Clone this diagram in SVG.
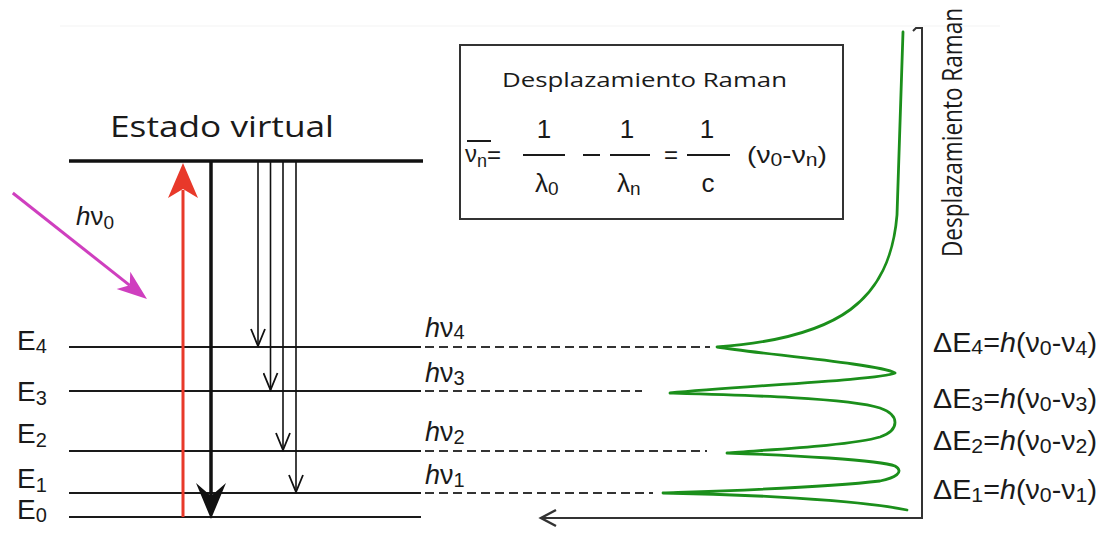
<svg xmlns="http://www.w3.org/2000/svg" width="1112" height="533" viewBox="0 0 1112 533">
<style>
.lvl{stroke:#1a1a1a;stroke-width:2;fill:none}
.dash{stroke:#333;stroke-width:2;stroke-dasharray:9 5;fill:none}
.thin{stroke:#111;stroke-width:1.6;fill:none}
.m{font-family:"Liberation Sans",Arial,sans-serif;fill:#1a1a1a}
.s{font-family:"Open Sans","Liberation Sans",sans-serif;fill:#1a1a1a}
.bar{stroke:#1a1a1a;stroke-width:2}
</style>
<defs>
<marker id="chev" viewBox="0 0 20 16" refX="18" refY="8" markerWidth="20" markerHeight="16" markerUnits="userSpaceOnUse" orient="auto">
<path d="M1,1 L18,8 L1,15" fill="none" stroke="#111" stroke-width="1.8"/>
</marker>
</defs>
<rect width="1112" height="533" fill="#fff"/>
<line x1="60" y1="26" x2="1000" y2="26" stroke="#f3f3f3" stroke-width="1"/>

<g id="virtual-state">
<line x1="69" y1="161" x2="423" y2="161" stroke="#111" stroke-width="3.5"/>
<text class="s" x="110" y="137" font-size="30" textLength="224" lengthAdjust="spacingAndGlyphs">Estado virtual</text>
</g>

<g id="levels">
<line class="lvl" x1="69" y1="347" x2="421" y2="347"/>
<line class="lvl" x1="69" y1="391" x2="421" y2="391"/>
<line class="lvl" x1="69" y1="451" x2="421" y2="451"/>
<line class="lvl" x1="69" y1="493" x2="421" y2="493"/>
<line class="lvl" x1="69" y1="517" x2="421" y2="517"/>
<text class="m" x="17" y="350" font-size="28">E<tspan font-size="20" dy="3">4</tspan></text>
<text class="m" x="17" y="401" font-size="28">E<tspan font-size="20" dy="4">3</tspan></text>
<text class="m" x="17" y="443" font-size="28">E<tspan font-size="20" dy="4">2</tspan></text>
<text class="m" x="17" y="488" font-size="28">E<tspan font-size="20" dy="4">1</tspan></text>
<text class="m" x="17" y="519" font-size="28">E<tspan font-size="20" dy="3">0</tspan></text>
</g>

<g id="connectors">
<line class="dash" x1="425" y1="347" x2="710" y2="347"/>
<line class="dash" x1="425" y1="391" x2="642" y2="391"/>
<line class="dash" x1="425" y1="451" x2="707" y2="451"/>
<line class="dash" x1="425" y1="493" x2="653" y2="493"/>
<line class="thin" x1="258" y1="162" x2="258" y2="346" marker-end="url(#chev)"/>
<line class="thin" x1="270.5" y1="162" x2="270.5" y2="390" marker-end="url(#chev)"/>
<line class="thin" x1="283" y1="162" x2="283" y2="450" marker-end="url(#chev)"/>
<line class="thin" x1="296" y1="162" x2="296" y2="492" marker-end="url(#chev)"/>
<line x1="183" y1="517" x2="183" y2="190" stroke="#e8392a" stroke-width="3"/>
<path d="M183,163 L198,198 L183,189 L168,198 Z" fill="#e8392a"/>
<line x1="211" y1="161" x2="211" y2="498" stroke="#111" stroke-width="3.5"/>
<path d="M211,519 L196,483 L211,496 L226,483 Z" fill="#111"/>
<g transform="translate(147,299) rotate(38.3)">
<line x1="-171" y1="0" x2="-22" y2="0" stroke="#cf3fbf" stroke-width="3"/>
<path d="M0,0 L-30,-11 L-22,0 L-30,11 Z" fill="#cf3fbf"/>
</g>
<path d="M913,31 L916,28 L922,28 L922,518 L541,518" fill="none" stroke="#333" stroke-width="2"/>
<path d="M556,510 L541,518 L556,526" fill="none" stroke="#333" stroke-width="2.5"/>
</g>

<g id="photon-label">
<text class="m" x="76" y="225" font-size="26"><tspan font-style="italic">h</tspan>ν<tspan font-size="19" dy="4">0</tspan></text>
</g>

<g id="transition-labels">
<text class="m" x="425" y="337" font-size="27"><tspan font-style="italic">h</tspan>ν<tspan font-size="20" dy="2">4</tspan></text>
<text class="m" x="425" y="382" font-size="27"><tspan font-style="italic">h</tspan>ν<tspan font-size="20" dy="3">3</tspan></text>
<text class="m" x="425" y="441" font-size="27"><tspan font-style="italic">h</tspan>ν<tspan font-size="20" dy="3">2</tspan></text>
<text class="m" x="425" y="484" font-size="27"><tspan font-style="italic">h</tspan>ν<tspan font-size="20" dy="3">1</tspan></text>
</g>

<g id="formula-box">
<rect x="460" y="45" width="383" height="174" fill="none" stroke="#333" stroke-width="2"/>
<text class="s" x="502" y="87" font-size="20" textLength="285" lengthAdjust="spacingAndGlyphs">Desplazamiento Raman</text>
<line class="bar" x1="467" y1="141" x2="491" y2="141"/>
<text class="m" x="465" y="162" font-size="24">ν<tspan font-size="18" dy="5">n</tspan><tspan dy="-4">=</tspan></text>
<line class="bar" x1="523" y1="155" x2="565" y2="155"/>
<text class="m" x="544" y="138" font-size="26" text-anchor="middle">1</text>
<text class="m" x="535" y="192" font-size="26">λ<tspan font-size="19" dy="3">0</tspan></text>
<line class="bar" x1="583" y1="155" x2="600" y2="155"/>
<line class="bar" x1="610" y1="155" x2="650" y2="155"/>
<text class="m" x="627" y="138" font-size="26" text-anchor="middle">1</text>
<text class="m" x="617" y="192" font-size="26">λ<tspan font-size="19" dy="3">n</tspan></text>
<text class="m" x="664" y="163" font-size="24">=</text>
<line class="bar" x1="687" y1="155" x2="730" y2="155"/>
<text class="m" x="707" y="138" font-size="26" text-anchor="middle">1</text>
<text class="m" x="708" y="192" font-size="26" text-anchor="middle">c</text>
<text class="m" x="747" y="163" font-size="24" textLength="80" lengthAdjust="spacingAndGlyphs">(ν<tspan font-size="18" dy="3">0</tspan><tspan dy="-3">-ν</tspan><tspan font-size="18" dy="3">n</tspan><tspan dy="-3">)</tspan></text>
</g>

<g id="spectrum">
<path d="M903,32 L897,215 C890,300 840,338 717,347 C760,354 880,364 895,373 C880,380 740,386 670,393 C740,395 850,398 880,408 C900,415 900,430 880,437 C850,446 760,450 727,453 C790,455 880,460 895,466 C905,472 895,478 880,481 C820,488 720,491 663,493 C740,494 860,500 907,510" fill="none" stroke="#1b8f1b" stroke-width="2.8" stroke-linejoin="round" stroke-linecap="round"/>
<text class="s" transform="translate(962,257) scale(1.2,1) rotate(-90)" font-size="22" textLength="249" lengthAdjust="spacingAndGlyphs">Desplazamiento Raman</text>
</g>

<g id="energy-labels">
<text class="m" x="933" y="352" font-size="27" textLength="164" lengthAdjust="spacingAndGlyphs">ΔE<tspan font-size="20" dy="2">4</tspan><tspan dy="-2">=</tspan><tspan font-style="italic">h</tspan>(ν<tspan font-size="20" dy="3">0</tspan><tspan dy="-3">-ν</tspan><tspan font-size="20" dy="3">4</tspan><tspan dy="-3">)</tspan></text>
<text class="m" x="933" y="408" font-size="27" textLength="164" lengthAdjust="spacingAndGlyphs">ΔE<tspan font-size="20" dy="3">3</tspan><tspan dy="-3">=</tspan><tspan font-style="italic">h</tspan>(ν<tspan font-size="20" dy="3">0</tspan><tspan dy="-3">-ν</tspan><tspan font-size="20" dy="3">3</tspan><tspan dy="-3">)</tspan></text>
<text class="m" x="933" y="450" font-size="27" textLength="164" lengthAdjust="spacingAndGlyphs">ΔE<tspan font-size="20" dy="3">2</tspan><tspan dy="-3">=</tspan><tspan font-style="italic">h</tspan>(ν<tspan font-size="20" dy="3">0</tspan><tspan dy="-3">-ν</tspan><tspan font-size="20" dy="3">2</tspan><tspan dy="-3">)</tspan></text>
<text class="m" x="933" y="499" font-size="27" textLength="164" lengthAdjust="spacingAndGlyphs">ΔE<tspan font-size="20" dy="3">1</tspan><tspan dy="-3">=</tspan><tspan font-style="italic">h</tspan>(ν<tspan font-size="20" dy="3">0</tspan><tspan dy="-3">-ν</tspan><tspan font-size="20" dy="3">1</tspan><tspan dy="-3">)</tspan></text>
</g>
</svg>
